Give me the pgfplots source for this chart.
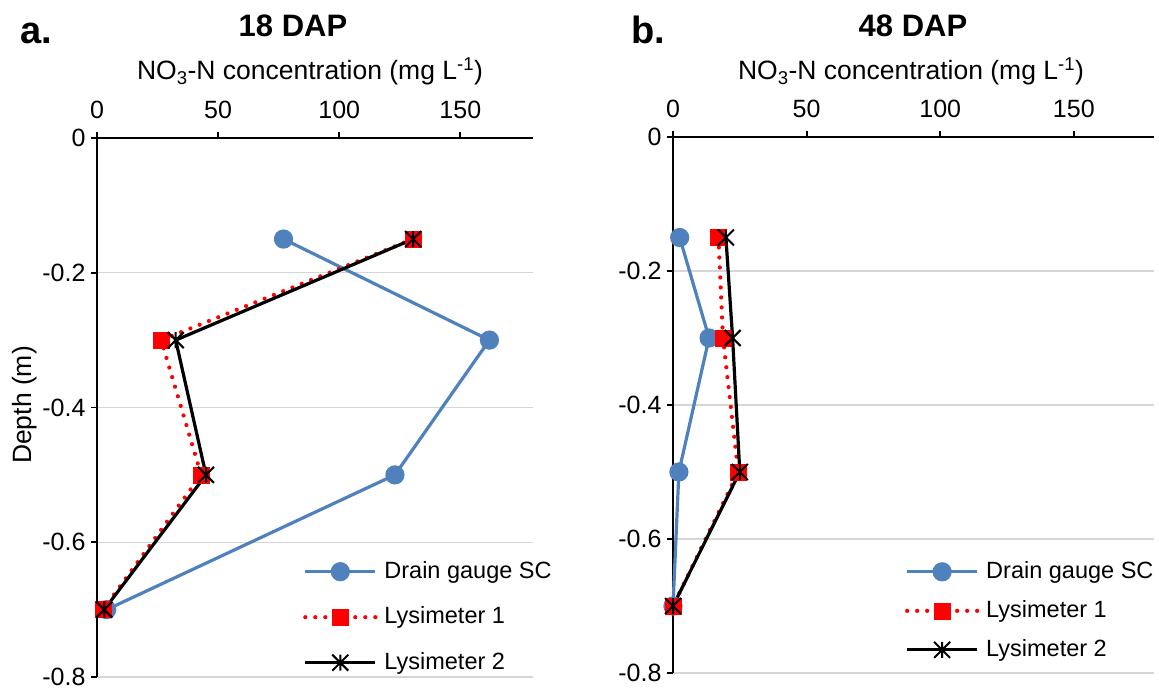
\documentclass[border=0pt]{standalone}
\usepackage{fontspec}
\setmainfont{Liberation Sans}
\usepackage{pgfplots}
\pgfplotsset{compat=1.18}
\definecolor{dgblue}{RGB}{79,129,189}
\newcommand{\fs}{\fontsize{25bp}{29bp}\selectfont}
\newcommand{\fl}{\fontsize{23.5bp}{27bp}\selectfont}
\newcommand{\fa}{\fontsize{26.5bp}{30bp}\selectfont}
\pgfdeclareplotmark{xstar}{%
  \pgfpathmoveto{\pgfqpoint{-\pgfplotmarksize}{-\pgfplotmarksize}}%
  \pgfpathlineto{\pgfqpoint{\pgfplotmarksize}{\pgfplotmarksize}}%
  \pgfpathmoveto{\pgfqpoint{-\pgfplotmarksize}{\pgfplotmarksize}}%
  \pgfpathlineto{\pgfqpoint{\pgfplotmarksize}{-\pgfplotmarksize}}%
  \pgfpathmoveto{\pgfqpoint{0pt}{-\pgfplotmarksize}}%
  \pgfpathlineto{\pgfqpoint{0pt}{\pgfplotmarksize}}%
  \pgfusepathqstroke}
\pgfplotsset{
  dd/.style={
    scale only axis, xmin=0, xmax=180, ymin=-0.8, ymax=0,
    axis x line=top, axis y line=left,
    axis line style={-, line width=1.8bp, black},
    xtick={0,50,100,150}, xticklabels={0,50,100,150},
    ytick={-0.8,-0.6,-0.4,-0.2,0}, yticklabels={-0.8,-0.6,-0.4,-0.2,0},
    tick align=outside, major tick length=6bp,
    tick style={line width=1.8bp, black},
    ymajorgrids, grid style={line width=1.4bp, black!16},
    tick label style={font=\fs},
    xticklabel shift=10bp, yticklabel shift=2bp,
    clip=false,
    legend cell align=left,
    legend style={draw=none, fill=none, font=\fl, anchor=west,
      inner sep=0pt, column sep=7bp,
      nodes={inner sep=0pt, text height=18bp, text depth=5bp}},
    legend image code/.code={%
      \draw[mark repeat=2, mark phase=2, ##1] plot coordinates {(0bp,0bp) (35bp,0bp) (70bp,0bp)};},
  },
  dg/.style={color=dgblue, line width=3.2bp, mark=*, mark size=8bp, mark options={solid, fill=dgblue}},
  l1/.style={color=red, line width=4.2bp, line cap=round, dash pattern=on 0bp off 10bp, mark=square*, mark size=8bp, mark options={solid, fill=red, line width=0.5bp}},
  l2/.style={color=black, line width=3.2bp, mark=xstar, mark size=8bp, mark options={solid, line width=2bp}},
}
\begin{document}
\begin{tikzpicture}
\useasboundingbox (0,0) rectangle (1159bp,690bp);
% left panel
\begin{axis}[dd, at={(97bp,13bp)}, anchor=south west, width=436bp, height=539bp,
  legend style={at={(0.4725,0.111)}, row sep=22.5bp}]
\addplot[dg] coordinates {(77,-0.15) (162,-0.3) (123,-0.5) (4,-0.7)};
\addlegendentry{Drain gauge SC}
\addplot[l1] coordinates {(130.5,-0.15) (26.5,-0.3) (43,-0.5) (2.5,-0.7)};
\addlegendentry{Lysimeter 1}
\addplot[l2] coordinates {(130.5,-0.15) (32.5,-0.3) (45,-0.5) (3,-0.7)};
\addlegendentry{Lysimeter 2}
\end{axis}
% right panel
\begin{axis}[dd, at={(673bp,17bp)}, anchor=south west, width=481bp, height=536bp,
  legend style={at={(0.482,0.116)}, row sep=16bp}]
\addplot[dg] coordinates {(2.5,-0.15) (13.5,-0.3) (2.2,-0.5) (0,-0.7)};
\addlegendentry{Drain gauge SC}
\addplot[l1] coordinates {(17,-0.15) (18.7,-0.3) (24.4,-0.5) (0,-0.7)};
\addlegendentry{Lysimeter 1}
\addplot[l2] coordinates {(19.8,-0.15) (22.3,-0.3) (25,-0.5) (0,-0.7)};
\addlegendentry{Lysimeter 2}
\end{axis}
% texts
\node[anchor=base, font=\bfseries\fontsize{38bp}{42bp}\selectfont] at (36bp,646bp) {a.};
\node[anchor=base, font=\bfseries\fontsize{38bp}{42bp}\selectfont] at (648bp,646bp) {b.};
\node[anchor=base, font=\bfseries\fontsize{31bp}{35bp}\selectfont] at (293bp,653bp) {18 DAP};
\node[anchor=base, font=\bfseries\fontsize{31bp}{35bp}\selectfont] at (913bp,653bp) {48 DAP};
\node[anchor=base, font=\fa] at (310bp,610bp) {NO\textsubscript{3}-N concentration (mg L\textsuperscript{-1})};
\node[anchor=base, font=\fa] at (911bp,610bp) {NO\textsubscript{3}-N concentration (mg L\textsuperscript{-1})};
\node[rotate=90, font=\fa] at (25bp,285bp) {Depth (m)};
\end{tikzpicture}
\end{document}
